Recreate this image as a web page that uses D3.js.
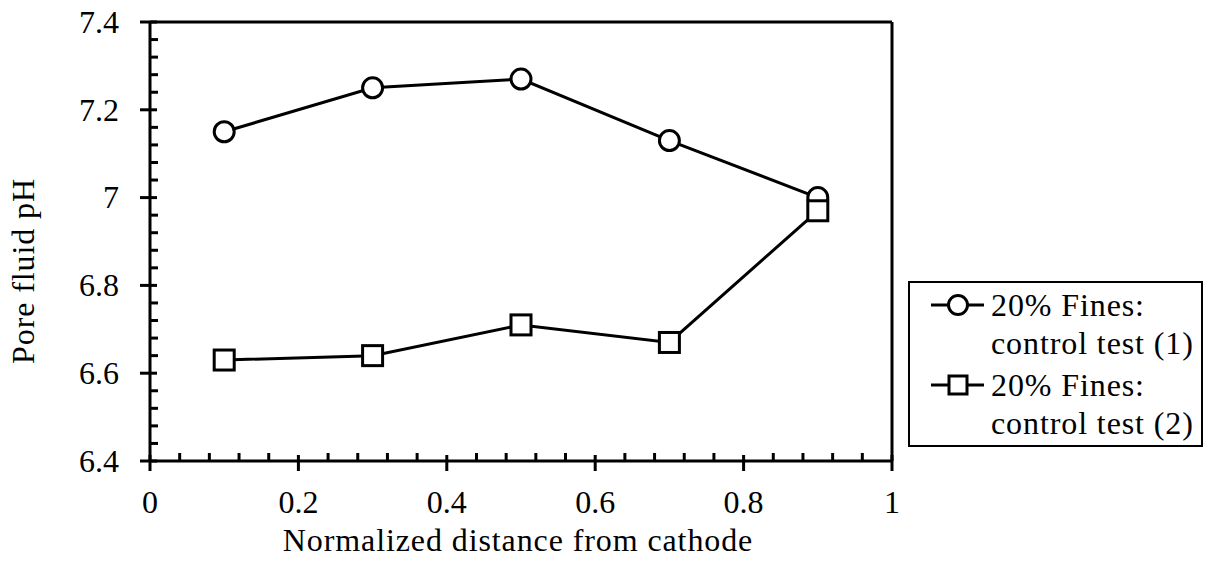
<!DOCTYPE html>
<html>
<head>
<meta charset="utf-8">
<script src="https://cdn.jsdelivr.net/npm/d3@7"></script>
<style>
  html, body { margin: 0; padding: 0; background: #fff; }
  svg text { font-family: "Liberation Serif", "Times New Roman", serif; fill: #000; }
</style>
</head>
<body>
<svg id="chart" width="1209" height="561"></svg>
<script>
// Normalized distance from cathode for each sampling point
const distance = [0.1, 0.3, 0.5, 0.7, 0.9];
// Pore fluid pH, control test (1)
const phTest1 = [7.15, 7.25, 7.27, 7.13, 7.00];
// Pore fluid pH, control test (2)
const phTest2 = [6.63, 6.64, 6.71, 6.67, 6.97];

const xTicks = [0, 0.2, 0.4, 0.6, 0.8, 1];
const yTicks = [6.4, 6.6, 6.8, 7, 7.2, 7.4];
const xTickLabels = ["0", "0.2", "0.4", "0.6", "0.8", "1"];
const yTickLabels = ["6.4", "6.6", "6.8", "7", "7.2", "7.4"];
const seriesNames = [["20% Fines:", "control test (1)"], ["20% Fines:", "control test (2)"]];

const svg = d3.select("#chart");
const plot = { left: 150, right: 892, top: 22, bottom: 461 };

const x = d3.scaleLinear().domain([0, 1]).range([plot.left, plot.right]);
const y = d3.scaleLinear().domain([6.4, 7.4]).range([plot.bottom, plot.top]);

const fontSize = 32;
const spacing = "0.9px";
const axisStroke = 3;

// Frame: top and right edges
svg.append("line")
  .attr("x1", plot.left).attr("x2", plot.right)
  .attr("y1", plot.top).attr("y2", plot.top)
  .attr("stroke", "#000").attr("stroke-width", axisStroke);
svg.append("line")
  .attr("x1", plot.right).attr("x2", plot.right)
  .attr("y1", plot.top).attr("y2", plot.bottom)
  .attr("stroke", "#000").attr("stroke-width", axisStroke);

// X axis with major ticks crossing the axis and minor ticks inside
const xMinor = d3.range(0, 1.0001, 0.04).filter(v => !xTicks.some(t => Math.abs(t - v) < 1e-6));
const gx = svg.append("g").attr("transform", `translate(0,${plot.bottom})`);
gx.append("line")
  .attr("x1", plot.left - 1).attr("x2", plot.right + 1)
  .attr("stroke", "#000").attr("stroke-width", axisStroke);
gx.selectAll("line.major").data(xTicks).join("line").attr("class", "major")
  .attr("x1", d => x(d)).attr("x2", d => x(d))
  .attr("y1", -6).attr("y2", 10)
  .attr("stroke", "#000").attr("stroke-width", axisStroke);
gx.selectAll("line.minor").data(xMinor).join("line").attr("class", "minor")
  .attr("x1", d => x(d)).attr("x2", d => x(d))
  .attr("y1", -8).attr("y2", 0)
  .attr("stroke", "#000").attr("stroke-width", axisStroke);
gx.selectAll("text").data(xTicks).join("text")
  .attr("x", d => x(d)).attr("y", 52)
  .attr("text-anchor", "middle")
  .attr("font-size", fontSize)
  .text((d, i) => xTickLabels[i]);

// Y axis
const yMinor = d3.range(6.4, 7.4001, 0.04).filter(v => !yTicks.some(t => Math.abs(t - v) < 1e-6));
const gy = svg.append("g").attr("transform", `translate(${plot.left},0)`);
gy.append("line")
  .attr("y1", plot.top - 1).attr("y2", plot.bottom + 1)
  .attr("stroke", "#000").attr("stroke-width", axisStroke);
gy.selectAll("line.major").data(yTicks).join("line").attr("class", "major")
  .attr("y1", d => y(d)).attr("y2", d => y(d))
  .attr("x1", -10).attr("x2", 7)
  .attr("stroke", "#000").attr("stroke-width", axisStroke);
gy.selectAll("line.minor").data(yMinor).join("line").attr("class", "minor")
  .attr("y1", d => y(d)).attr("y2", d => y(d))
  .attr("x1", 0).attr("x2", 8)
  .attr("stroke", "#000").attr("stroke-width", axisStroke);
gy.selectAll("text").data(yTicks).join("text")
  .attr("x", -31).attr("y", d => y(d))
  .attr("dy", "0.34em")
  .attr("text-anchor", "end")
  .attr("font-size", fontSize)
  .text((d, i) => yTickLabels[i]);

// Axis titles
svg.append("text")
  .attr("x", 518).attr("y", 551)
  .attr("text-anchor", "middle")
  .attr("font-size", fontSize)
  .attr("letter-spacing", spacing)
  .text("Normalized distance from cathode");
svg.append("text")
  .attr("transform", "translate(34,271) rotate(-90)")
  .attr("text-anchor", "middle")
  .attr("font-size", fontSize)
  .attr("letter-spacing", spacing)
  .text("Pore fluid pH");

// Series lines and markers
const line = d3.line().x(d => x(d[0])).y(d => y(d[1]));
const s1 = distance.map((d, i) => [d, phTest1[i]]);
const s2 = distance.map((d, i) => [d, phTest2[i]]);

const lineStroke = 3;
const circleR = 10;
const squareSide = 20;

svg.append("path").datum(s1).attr("d", line)
  .attr("fill", "none").attr("stroke", "#000").attr("stroke-width", lineStroke);
svg.append("path").datum(s2).attr("d", line)
  .attr("fill", "none").attr("stroke", "#000").attr("stroke-width", lineStroke);

svg.selectAll("circle.s1").data(s1).join("circle").attr("class", "s1")
  .attr("cx", d => x(d[0])).attr("cy", d => y(d[1])).attr("r", circleR)
  .attr("fill", "#fff").attr("stroke", "#000").attr("stroke-width", lineStroke);
svg.selectAll("rect.s2").data(s2).join("rect").attr("class", "s2")
  .attr("x", d => x(d[0]) - squareSide / 2).attr("y", d => y(d[1]) - squareSide / 2)
  .attr("width", squareSide).attr("height", squareSide)
  .attr("fill", "#fff").attr("stroke", "#000").attr("stroke-width", lineStroke);

// Legend
const legend = svg.append("g");
legend.append("rect")
  .attr("x", 909).attr("y", 282).attr("width", 293).attr("height", 164)
  .attr("fill", "#fff").attr("stroke", "#000").attr("stroke-width", 2);

const entryY = [305, 385];
const textX = 991;
seriesNames.forEach((lines, i) => {
  const g = legend.append("g").attr("transform", `translate(0,${entryY[i]})`);
  g.append("line").attr("x1", 931).attr("x2", 984).attr("y1", 0).attr("y2", 0)
    .attr("stroke", "#000").attr("stroke-width", lineStroke);
  if (i === 0) {
    g.append("circle").attr("cx", 958).attr("cy", 0).attr("r", 9.5)
      .attr("fill", "#fff").attr("stroke", "#000").attr("stroke-width", lineStroke);
  } else {
    g.append("rect").attr("x", 958 - 9).attr("y", -9).attr("width", 18).attr("height", 18)
      .attr("fill", "#fff").attr("stroke", "#000").attr("stroke-width", lineStroke);
  }
  g.selectAll("text").data(lines).join("text")
    .attr("x", textX).attr("y", (d, j) => 11 + j * 38)
    .attr("font-size", fontSize)
    .attr("letter-spacing", spacing)
    .text(d => d);
});
</script>
</body>
</html>
